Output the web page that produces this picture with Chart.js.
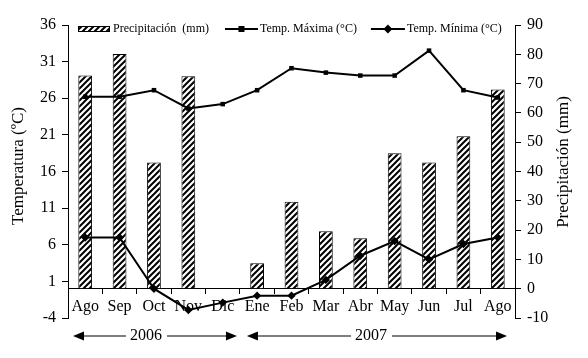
<!DOCTYPE html>
<html><head><meta charset="utf-8">
<script src="https://cdn.jsdelivr.net/npm/chart.js@4/dist/chart.umd.min.js"></script>
<style>html,body{margin:0;padding:0;background:#fff;}#wrap{width:588px;height:358px;position:relative;}</style>
</head><body><div id="wrap"><canvas id="c" width="588" height="358" style="width:588px;height:358px;"></canvas></div>
<script>
const categories = ['Ago','Sep','Oct','Nov','Dic','Ene','Feb','Mar','Abr','May','Jun','Jul','Ago'];
const precipitation = [72.8, 80.1, 43.1, 72.5, 0, 8.7, 29.7, 19.6, 17.2, 46.2, 43.1, 52.0, 68.0];
const tempMax = [26.2, 26.2, 27.1, 24.6, 25.2, 27.1, 30.1, 29.5, 29.1, 29.1, 32.5, 27.1, 26.1];
const tempMin = [7.0, 7.0, 0.0, -2.9, -1.9, -0.95, -0.95, 1.2, 4.5, 6.5, 4.0, 6.1, 7.0];
const tempTicks = [-4, 1, 6, 11, 16, 21, 26, 31, 36];
const precTicks = [-10, 0, 10, 20, 30, 40, 50, 60, 70, 80, 90];
const seriesNames = ['Precipitación  (mm)', 'Temp. Máxima (°C)', 'Temp. Mínima (°C)'];
const axisTitles = ['Temperatura (ºC)', 'Precipitación (mm)'];
const years = [{label: '2006', from: 0, to: 4}, {label: '2007', from: 5, to: 12}];

const SERIF = '"Liberation Serif", "Times New Roman", serif';

function makeHatch() {
  const s = 6;
  const c = document.createElement('canvas');
  c.width = s; c.height = s;
  const g = c.getContext('2d');
  g.fillStyle = '#fff'; g.fillRect(0, 0, s, s);
  g.strokeStyle = '#000'; g.lineWidth = 2;
  g.beginPath();
  g.moveTo(-1, s + 1); g.lineTo(s + 1, -1);
  g.moveTo(-2, 2); g.lineTo(2, -2);
  g.moveTo(s - 2, s + 2); g.lineTo(s + 2, s - 2);
  g.stroke();
  return document.getElementById('c').getContext('2d').createPattern(c, 'repeat');
}
const hatch = makeHatch();

function arrowHead(ctx, x, y, dir) {
  ctx.beginPath();
  ctx.moveTo(x, y);
  ctx.lineTo(x - dir * 11, y - 4.5);
  ctx.lineTo(x - dir * 11, y + 4.5);
  ctx.closePath();
  ctx.fill();
}

const overlay = {
  id: 'overlay',
  afterDraw(chart) {
    const ctx = chart.ctx, ca = chart.chartArea, xs = chart.scales.x;
    ctx.save();
    ctx.fillStyle = '#000'; ctx.strokeStyle = '#000';
    // axis titles
    ctx.font = '17px ' + SERIF;
    ctx.textAlign = 'center'; ctx.textBaseline = 'middle';
    ctx.save(); ctx.translate(19, 166); ctx.rotate(-Math.PI / 2); ctx.fillText(axisTitles[0], 0, 0); ctx.restore();
    ctx.save(); ctx.translate(564, 162); ctx.rotate(-Math.PI / 2); ctx.fillText(axisTitles[1], 0, 0); ctx.restore();

    // legend
    ctx.font = '12px ' + SERIF;
    ctx.textAlign = 'left';
    const ly = ca.top + 4;
    let lx = ca.left + 10;
    ctx.fillStyle = hatch; ctx.fillRect(lx, ly - 2.5, 32, 5);
    ctx.lineWidth = 1; ctx.strokeRect(lx + 0.5, ly - 2.5, 31, 5);
    ctx.fillStyle = '#000';
    lx += 35;
    ctx.fillText(seriesNames[0], lx, ly);
    lx += ctx.measureText(seriesNames[0]).width + 16;
    ctx.lineWidth = 2;
    ctx.beginPath(); ctx.moveTo(lx, ly); ctx.lineTo(lx + 33, ly); ctx.stroke();
    ctx.fillRect(lx + 16.5 - 3, ly - 3, 6, 6);
    lx += 35;
    ctx.fillText(seriesNames[1], lx, ly);
    lx += ctx.measureText(seriesNames[1]).width + 14;
    ctx.beginPath(); ctx.moveTo(lx, ly); ctx.lineTo(lx + 34, ly); ctx.stroke();
    ctx.beginPath();
    const mx = lx + 17;
    ctx.moveTo(mx, ly - 4.5); ctx.lineTo(mx + 4.5, ly); ctx.lineTo(mx, ly + 4.5); ctx.lineTo(mx - 4.5, ly); ctx.closePath(); ctx.fill();
    lx += 36;
    ctx.fillText(seriesNames[2], lx, ly);

    // year annotations
    const half = (xs.getPixelForValue(1) - xs.getPixelForValue(0)) / 2;
    const yy = 336;
    ctx.font = '16px ' + SERIF;
    ctx.textAlign = 'center';
    const insets = [[5, 3, -9], [7, 8, -6]];
    years.forEach((yr, i) => {
      const a = xs.getPixelForValue(yr.from) - half + insets[i][0];
      const b = xs.getPixelForValue(yr.to) + half - insets[i][1];
      const tc = (a + b) / 2 + insets[i][2];
      const tw = ctx.measureText(yr.label).width;
      ctx.fillText(yr.label, tc, yy);
      ctx.lineWidth = 1.2;
      ctx.beginPath();
      ctx.moveTo(a + 8, yy); ctx.lineTo(tc - tw / 2 - 4, yy);
      ctx.moveTo(tc + tw / 2 + 5, yy); ctx.lineTo(b - 8, yy);
      ctx.stroke();
      arrowHead(ctx, a, yy, -1);
      arrowHead(ctx, b, yy, 1);
    });
    ctx.restore();
  }
};

new Chart(document.getElementById('c'), {
  data: {
    labels: categories,
    datasets: [
      {type: 'line', label: seriesNames[1], data: tempMax, yAxisID: 'y', order: 1,
       borderColor: '#000', borderWidth: 2, backgroundColor: '#000', tension: 0,
       pointStyle: 'rect', pointRadius: 3.2, pointBackgroundColor: '#000', pointBorderWidth: 0},
      {type: 'line', label: seriesNames[2], data: tempMin, yAxisID: 'y', order: 2,
       borderColor: '#000', borderWidth: 2, backgroundColor: '#000', tension: 0,
       pointStyle: 'rectRot', pointRadius: 4.2, pointBackgroundColor: '#000', pointBorderWidth: 0},
      {type: 'bar', label: seriesNames[0], data: precipitation, yAxisID: 'y1', order: 3,
       backgroundColor: hatch, borderColor: '#000', borderWidth: 1,
       barPercentage: 0.4, categoryPercentage: 1}
    ]
  },
  options: {
    responsive: false, maintainAspectRatio: false, animation: false, devicePixelRatio: 1,
    layout: {padding: {top: 25, bottom: 40, left: 0, right: 0}},
    plugins: {legend: {display: false}, tooltip: {enabled: false}},
    scales: {
      x: {
        type: 'category', position: {y: 0}, offset: true,
        grid: {display: true, drawOnChartArea: false, drawTicks: true, tickLength: 5, offset: true, color: '#000'},
        border: {display: true, color: '#000', width: 1},
        ticks: {color: '#000', font: {family: SERIF, size: 16}, padding: 3, maxRotation: 0, autoSkip: false}
      },
      y: {
        type: 'linear', position: 'left', min: -4, max: 36,
        afterBuildTicks: s => { s.ticks = tempTicks.map(v => ({value: v})); },
        afterFit: s => { s.width = 68; },
        grid: {display: true, drawOnChartArea: false, drawTicks: true, tickLength: 6, color: '#000'},
        border: {display: true, color: '#000', width: 1},
        ticks: {color: '#000', font: {family: SERIF, size: 16}, padding: 6}
      },
      y1: {
        type: 'linear', position: 'right', min: -10, max: 90,
        afterBuildTicks: s => { s.ticks = precTicks.map(v => ({value: v})); },
        afterFit: s => { s.width = 73; },
        grid: {display: true, drawOnChartArea: false, drawTicks: true, tickLength: 6, color: '#000'},
        border: {display: true, color: '#000', width: 1},
        ticks: {color: '#000', font: {family: SERIF, size: 16}, padding: 6}
      }
    }
  },
  plugins: [overlay]
});
</script></body></html>
